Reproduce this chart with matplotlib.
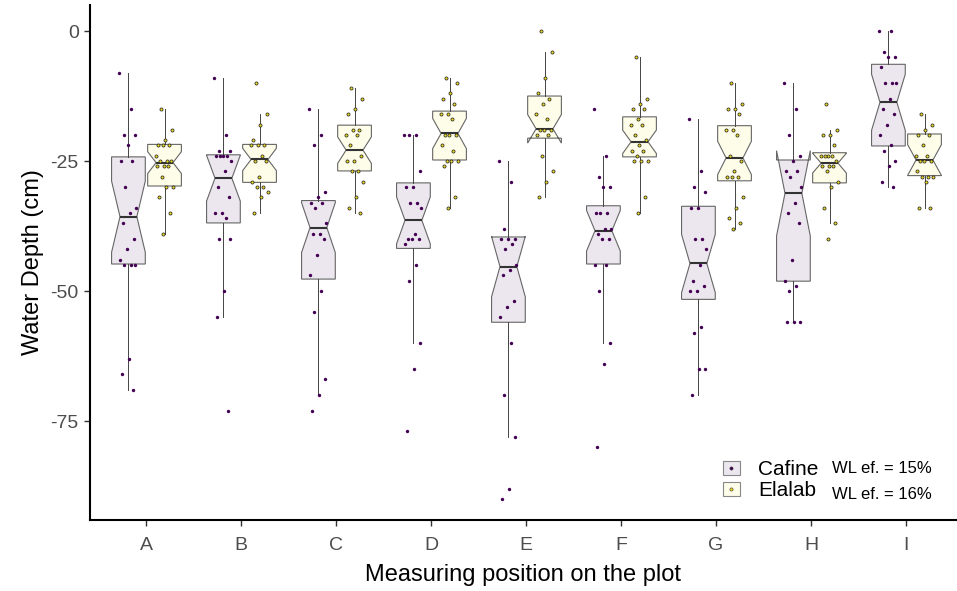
import numpy as np
import matplotlib
matplotlib.use("Agg")
import matplotlib.pyplot as plt
from matplotlib.patches import Patch
from matplotlib.lines import Line2D
from matplotlib.legend_handler import HandlerTuple

plt.rcParams['font.family'] = ['Liberation Sans', 'DejaVu Sans']
plt.rcParams['axes.unicode_minus'] = False

positions = ['A', 'B', 'C', 'D', 'E', 'F', 'G', 'H', 'I']
groups = ['Cafine', 'Elalab']
wl_labels = ['WL ef. = 15%', 'WL ef. = 16%']

# box statistics (cm)
cafine_whishi = [-8, -9, -15, -20, -25, -24, -17, -10, 0]
cafine_q3 = [-24.2, -23.8, -32.6, -29.2, -39.6, -33.6, -33.7, -24.8, -6.4]
cafine_med = [-35.7, -28.3, -37.8, -36.4, -45.3, -38.4, -44.7, -31.2, -13.7]
cafine_notch = [6.85, 4.4, 4.8, 4.5, 5.8, 3.9, 5.6, 8.2, 5.4]
cafine_q1 = [-44.8, -36.9, -47.7, -41.8, -56.0, -44.8, -51.6, -48.1, -22.1]
cafine_whislo = [-69, -55, -70, -60, -78, -60, -70, -56, -30]

elalab_whishi = [-15, -16, -11, -9, -4, -5, -10, -19, -16]
elalab_q3 = [-21.8, -21.8, -18.1, -15.4, -12.5, -16.5, -18.2, -23.4, -19.8]
elalab_med = [-25.3, -24.7, -22.9, -19.7, -18.8, -21.3, -24.4, -25.4, -24.8]
elalab_notch = [2.1, 2.15, 2.55, 2.9, 2.75, 2.25, 3.2, 1.9, 2.95]
elalab_q1 = [-29.8, -29.1, -26.9, -24.8, -20.6, -24.2, -28.8, -29.2, -27.8]
elalab_whislo = [-39, -35, -35, -34, -32, -35, -38, -37, -34]

# individual measurements (cm)
cafine_pts = [
    [-8, -15, -20, -20, -22, -25, -25, -30, -34, -35, -37, -40, -42, -44, -45, -45, -45, -63, -66, -69],
    [-9, -20, -23, -23, -24, -24, -24, -24, -25, -27, -30, -32, -35, -35, -36, -40, -40, -50, -55, -73],
    [-15, -20, -22, -31, -32, -33, -33, -34, -37, -39, -39, -40, -43, -47, -50, -54, -67, -70, -73],
    [-20, -20, -20, -27, -30, -30, -33, -33, -34, -39, -40, -40, -40, -41, -45, -48, -60, -65, -77],
    [-25, -29, -38, -40, -40, -40, -41, -42, -45, -46, -47, -52, -53, -55, -60, -70, -78, -88, -90],
    [-15, -24, -28, -30, -30, -35, -35, -35, -38, -38, -39, -40, -40, -45, -45, -50, -60, -64, -80],
    [-17, -27, -30, -31, -34, -34, -40, -40, -42, -45, -48, -49, -50, -50, -57, -58, -65, -65, -70],
    [-10, -15, -20, -24, -25, -27, -27, -28, -30, -33, -35, -37, -44, -48, -49, -50, -56, -56, -56],
    [0, 0, -4, -5, -5, -7, -10, -10, -10, -13, -15, -16, -18, -20, -22, -23, -25, -26, -29, -30],
]
elalab_pts = [
    [-15, -19, -21, -22, -22, -22, -24, -25, -25, -25, -26, -26, -26, -28, -30, -30, -32, -35, -39],
    [-10, -16, -18, -21, -22, -22, -22, -24, -25, -25, -28, -29, -30, -30, -31, -32, -35],
    [-11, -13, -15, -16, -19, -19, -20, -20, -22, -24, -25, -25, -27, -27, -29, -32, -34, -35],
    [-9, -10, -12, -13, -14, -16, -16, -17, -20, -20, -20, -22, -23, -25, -25, -25, -26, -32, -34],
    [0, -4, -9, -12, -13, -14, -16, -17, -19, -19, -19, -20, -20, -24, -27, -29, -32],
    [-5, -13, -14, -15, -15, -17, -18, -18, -20, -21, -22, -23, -23, -24, -25, -25, -25, -32, -35],
    [-10, -14, -15, -15, -16, -19, -19, -20, -24, -25, -27, -28, -28, -28, -32, -34, -36, -37, -38],
    [-14, -19, -20, -20, -22, -24, -24, -24, -24, -25, -26, -26, -26, -27, -29, -30, -34, -37, -40],
    [-16, -18, -19, -20, -20, -22, -24, -24, -25, -25, -25, -27, -28, -28, -28, -29, -34, -34],
]

box_fill = ['#ECE6EE', '#FEFDE9']
pt_color = ['#440154', '#E8D52A']
edge = '#666666'


def box_stats(whishi, q3, med, notch, q1, whislo):
    return [dict(whishi=a, q3=b, med=c, cihi=c + n, cilo=c - n, q1=d, whislo=e, fliers=[])
            for a, b, c, n, d, e in zip(whishi, q3, med, notch, q1, whislo)]


stats = [
    box_stats(cafine_whishi, cafine_q3, cafine_med, cafine_notch, cafine_q1, cafine_whislo),
    box_stats(elalab_whishi, elalab_q3, elalab_med, elalab_notch, elalab_q1, elalab_whislo),
]
points = [cafine_pts, elalab_pts]

fig = plt.figure(figsize=(9.57, 5.91), dpi=100)
ax = fig.add_axes([0.094, 0.12, 0.906, 0.8715])

x = np.arange(1, len(positions) + 1)
offsets = [-0.185, 0.195]

for g in range(2):
    ax.bxp(stats[g], positions=x + offsets[g], widths=0.355, shownotches=True,
           showcaps=False, showfliers=False, patch_artist=True,
           boxprops=dict(facecolor=box_fill[g], edgecolor=edge, linewidth=0.8),
           whiskerprops=dict(color='#444444', linewidth=0.7),
           medianprops=dict(color='#333333', linewidth=1.5),
           manage_ticks=False, zorder=2)
    for i, vals in enumerate(points[g]):
        n = len(vals)
        jit = ((np.arange(n) * 0.618034 + 0.3 * g) % 1 - 0.5) * 0.19
        if g == 0:
            ax.scatter(x[i] + offsets[g] + jit, vals, s=6, color=pt_color[g],
                       linewidths=0, zorder=3)
        else:
            ax.scatter(x[i] + offsets[g] + jit, vals, s=5, facecolor=pt_color[g],
                       edgecolor='#2b2b20', linewidths=0.55, zorder=3)

ax.set_xlim(0.41, 9.537)
ax.set_ylim(-94.04, 5.0)
ax.set_xticks(x)
ax.set_xticklabels(positions)
ax.set_yticks([0, -25, -50, -75])
ax.tick_params(axis='both', labelsize=14, labelcolor='#4d4d4d', color='#333333',
               length=4.5, width=1)
ax.tick_params(axis='x', pad=8)
for s in ['top', 'right']:
    ax.spines[s].set_visible(False)
for s in ['left', 'bottom']:
    ax.spines[s].set_linewidth(1.5)
    ax.spines[s].set_color('black')

ax.set_xlabel('Measuring position on the plot', fontsize=17, color='black', labelpad=7)
ax.set_ylabel('Water Depth (cm)', fontsize=17, color='black', labelpad=5)

handles = []
for g in range(2):
    handles.append((Patch(facecolor=box_fill[g], edgecolor='#888888', linewidth=0.8),
                    Line2D([], [], linestyle='none', marker='o', markersize=2.3,
                           markerfacecolor=pt_color[g], markeredgecolor='#333333',
                           markeredgewidth=0.4)))
ax.legend(handles, groups, handler_map={tuple: HandlerTuple(ndivide=1, pad=0)},
          loc='center left', bbox_to_anchor=(0.73, 0.077), frameon=False,
          fontsize=15, handlelength=0.8, handleheight=0.7, labelspacing=0.1,
          handletextpad=0.9, borderpad=0, borderaxespad=0)

for k, lab in enumerate(wl_labels):
    fig.text(0.869, 0.208 - k * 0.044, lab, fontsize=12, va='center', ha='left')

fig.savefig('out.png', dpi=100)
